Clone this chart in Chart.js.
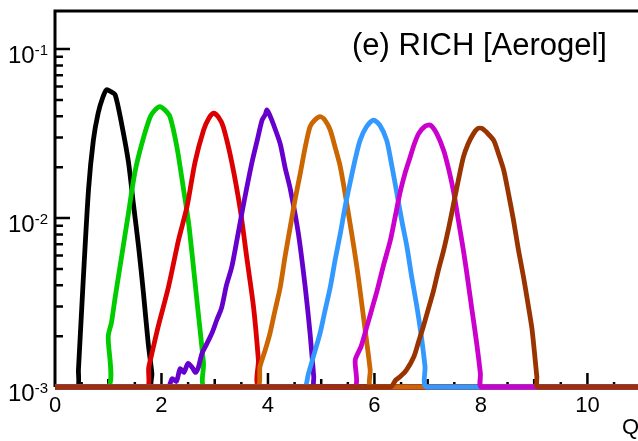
<!DOCTYPE html>
<html>
<head>
<meta charset="utf-8">
<script src="https://cdn.jsdelivr.net/npm/chart.js@4.4.1/dist/chart.umd.min.js"></script>
<style>
  html, body { margin: 0; padding: 0; background: #fff; }
  canvas { display: block; }
</style>
</head>
<body>
<canvas id="richChart" width="638" height="441"></canvas>
<script>
// Q distributions per charge (log scale, floor at 1e-3)
const charges = [1, 2, 3, 4, 5, 6, 7, 8];
const colors = ['#000000', '#00cc00', '#dd0000', '#6600cc', '#cc6600', '#3399ff', '#cc00cc', '#993300'];

const z1Q = [0, 0.42, 0.44, 0.53, 0.63, 0.72, 0.81, 0.90, 0.97, 1.05, 1.13, 1.25, 1.38, 1.47, 1.57, 1.66, 1.75, 1.82, 1.83, 10.95];
const z1Y = [0.001, 0.001, 0.00126, 0.00427, 0.0148, 0.0288, 0.0417, 0.052, 0.0575, 0.056, 0.0537, 0.0363, 0.0214, 0.0123, 0.00676, 0.00363, 0.00182, 0.0012, 0.001, 0.001];

const z2Q = [0, 1.0, 1.0, 1.06, 1.13, 1.25, 1.38, 1.50, 1.63, 1.79, 1.88, 1.97, 2.06, 2.16, 2.29, 2.41, 2.51, 2.60, 2.69, 2.79, 2.82, 10.95];
const z2Y = [0.001, 0.001, 0.002, 0.0024, 0.00339, 0.00589, 0.0107, 0.0186, 0.0275, 0.0398, 0.0437, 0.0457, 0.0437, 0.0398, 0.0263, 0.0151, 0.00933, 0.00513, 0.00275, 0.00138, 0.001, 0.001];

const z3Q = [0, 1.72, 1.76, 1.82, 1.94, 2.13, 2.32, 2.48, 2.63, 2.79, 2.89, 2.98, 3.07, 3.16, 3.32, 3.48, 3.60, 3.73, 3.82, 3.85, 10.95];
const z3Y = [0.001, 0.001, 0.0013, 0.00158, 0.00229, 0.00389, 0.00741, 0.0117, 0.0214, 0.0331, 0.039, 0.0417, 0.0395, 0.0347, 0.0214, 0.0112, 0.00589, 0.00295, 0.00145, 0.001, 0.001];

const z4Q = [0, 2.12, 2.2, 2.28, 2.35, 2.42, 2.5, 2.58, 2.64, 2.69, 2.76, 2.85, 2.95, 3.04, 3.13, 3.22, 3.32, 3.42, 3.51, 3.60, 3.70, 3.80, 3.89, 3.95, 3.98, 4.02, 4.1, 4.23, 4.32, 4.42, 4.57, 4.70, 4.79, 4.86, 4.88, 10.95];
const z4Y = [0.001, 0.001, 0.00112, 0.00108, 0.00128, 0.00122, 0.00138, 0.0013, 0.00122, 0.0013, 0.00158, 0.0018, 0.00209, 0.0025, 0.00295, 0.004, 0.00513, 0.0075, 0.0107, 0.015, 0.0214, 0.029, 0.038, 0.041, 0.0437, 0.0415, 0.036, 0.0275, 0.02, 0.0148, 0.00813, 0.00389, 0.00209, 0.00115, 0.001, 0.001];

const z5Q = [0, 3.79, 3.85, 3.95, 4.04, 4.13, 4.23, 4.32, 4.42, 4.51, 4.61, 4.70, 4.79, 4.88, 4.98, 5.07, 5.17, 5.26, 5.36, 5.51, 5.67, 5.80, 5.92, 5.94, 10.95];
const z5Y = [0.001, 0.001, 0.00132, 0.00166, 0.00209, 0.00282, 0.00389, 0.00589, 0.00891, 0.0129, 0.0186, 0.0263, 0.0347, 0.038, 0.0398, 0.038, 0.0331, 0.0263, 0.02, 0.0107, 0.00513, 0.00251, 0.00126, 0.001, 0.001];

const z6Q = [0, 4.67, 4.76, 4.87, 4.98, 5.07, 5.17, 5.26, 5.36, 5.45, 5.55, 5.64, 5.73, 5.85, 5.98, 6.10, 6.23, 6.32, 6.42, 6.51, 6.61, 6.70, 6.80, 6.88, 6.95, 6.98, 10.95];
const z6Y = [0.001, 0.001, 0.0012, 0.00158, 0.00209, 0.00282, 0.00389, 0.00562, 0.00813, 0.0117, 0.0166, 0.0224, 0.0288, 0.0347, 0.038, 0.0355, 0.0288, 0.0209, 0.0141, 0.00977, 0.00676, 0.00447, 0.00295, 0.002, 0.00132, 0.001, 0.001];

const z7Q = [0, 5.61, 5.64, 5.75, 5.86, 5.95, 6.05, 6.17, 6.30, 6.39, 6.48, 6.57, 6.67, 6.75, 6.83, 6.94, 7.05, 7.17, 7.30, 7.40, 7.49, 7.58, 7.67, 7.75, 7.83, 7.92, 7.99, 8.01, 10.95];
const z7Y = [0.001, 0.001, 0.00145, 0.00174, 0.00229, 0.00288, 0.00372, 0.00525, 0.00741, 0.0102, 0.0141, 0.0182, 0.0229, 0.0275, 0.0316, 0.0347, 0.0355, 0.0316, 0.0251, 0.0191, 0.0141, 0.00955, 0.00646, 0.00437, 0.00288, 0.00182, 0.0012, 0.001, 0.001];

const z8Q = [0, 6.30, 6.40, 6.48, 6.60, 6.74, 6.83, 6.92, 7.01, 7.11, 7.20, 7.30, 7.40, 7.49, 7.58, 7.67, 7.76, 7.86, 7.94, 8.02, 8.13, 8.24, 8.33, 8.43, 8.52, 8.61, 8.70, 8.80, 8.88, 8.96, 9.05, 9.07, 10.95];
const z8Y = [0.001, 0.001, 0.0011, 0.00115, 0.00126, 0.00151, 0.00186, 0.00229, 0.00288, 0.00372, 0.0049, 0.00646, 0.00891, 0.0123, 0.017, 0.0229, 0.0275, 0.0316, 0.0339, 0.0339, 0.0316, 0.0288, 0.024, 0.0191, 0.0138, 0.00977, 0.0066, 0.00447, 0.00316, 0.00219, 0.00115, 0.001, 0.001];

const qSeries = [z1Q, z2Q, z3Q, z4Q, z5Q, z6Q, z7Q, z8Q];
const ySeries = [z1Y, z2Y, z3Y, z4Y, z5Y, z6Y, z7Y, z8Y];

const xTicks = [0, 2, 4, 6, 8, 10];
const yTicks = [0.001, 0.01, 0.1];
const yExponents = ['-3', '-2', '-1'];
const titleText = '(e) RICH [Aerogel]';
const xTitle = 'Q';

const FONT = '"Liberation Sans", Arial, Helvetica, sans-serif';

const datasets = charges.map((z, i) => ({
    label: 'Z=' + z,
    data: qSeries[i].map((q, j) => ({ x: q, y: ySeries[i][j] })),
    borderColor: colors[i],
    backgroundColor: colors[i],
    borderWidth: 4.8,
    pointRadius: 0,
    tension: 0.25,
    fill: false,
    clip: false,
    order: charges.length - i
}));

// ROOT-style frame, inward ticks and in-pad texts
const rootFrame = {
    id: 'rootFrame',
    beforeDatasetsDraw(chart) {
        const ctx = chart.ctx;
        const a = chart.chartArea;
        const xs = chart.scales.x;
        const ys = chart.scales.y;
        ctx.save();
        ctx.strokeStyle = '#000';
        ctx.lineWidth = 2.5;
        ctx.beginPath();
        // y ticks: majors at decades, minors 2..9
        yTicks.forEach(d => {
            for (let m = 1; m <= 9; m++) {
                const v = d * m;
                if (v > ys.max) break;
                const py = ys.getPixelForValue(v);
                const len = m === 1 ? 15 : 8;
                ctx.moveTo(a.left, py);
                ctx.lineTo(a.left + len, py);
            }
        });
        // x ticks
        for (let k = 1; k <= 21; k++) {
            const v = k * 0.5;
            const px = xs.getPixelForValue(v);
            const len = (v % 2 === 0) ? 14 : (v % 1 === 0 ? 8 : 5);
            ctx.moveTo(px, a.bottom);
            ctx.lineTo(px, a.bottom - len);
        }
        ctx.stroke();
        // frame: left and top
        ctx.lineWidth = 3;
        ctx.beginPath();
        ctx.moveTo(a.left, a.bottom);
        ctx.lineTo(a.left, a.top);
        ctx.lineTo(chart.width, a.top);
        ctx.stroke();
        ctx.restore();
    },
    afterDraw(chart) {
        const ctx = chart.ctx;
        const ys = chart.scales.y;
        ctx.save();
        ctx.fillStyle = '#000';
        ctx.textBaseline = 'alphabetic';
        // y labels 10^n
        yTicks.forEach((v, i) => {
            const py = ys.getPixelForValue(v);
            ctx.textAlign = 'right';
            ctx.font = '15px ' + FONT;
            ctx.fillText(yExponents[i], 48, py + 6);
            const ew = ctx.measureText(yExponents[i]).width;
            ctx.font = '24px ' + FONT;
            ctx.fillText('10', 48 - ew, py + 14);
        });
        ctx.textAlign = 'left';
        ctx.font = '31px ' + FONT;
        ctx.fillText(titleText, 352, 55);
        ctx.font = '22px ' + FONT;
        ctx.fillText(xTitle, 622, 434);
        ctx.restore();
    }
};

const config = {
    type: 'line',
    data: { datasets: datasets },
    options: {
        responsive: false,
        animation: false,
        layout: { padding: { top: 11, right: 0, left: 0, bottom: 0 } },
        plugins: {
            legend: { display: false },
            tooltip: { enabled: false }
        },
        scales: {
            x: {
                type: 'linear',
                min: 0,
                max: 10.95,
                afterBuildTicks: s => { s.ticks = xTicks.map(v => ({ value: v })); },
                afterFit: s => { s.height = 54; },
                grid: { display: false, drawTicks: false },
                border: { display: false },
                ticks: {
                    color: '#000',
                    padding: 6,
                    maxRotation: 0,
                    font: { family: FONT, size: 22 },
                    callback: v => String(v)
                }
            },
            y: {
                type: 'logarithmic',
                min: 0.001,
                max: 0.168,
                afterBuildTicks: s => { s.ticks = yTicks.map(v => ({ value: v })); },
                afterFit: s => { s.width = 55; },
                grid: { display: false, drawTicks: false },
                border: { display: false },
                ticks: { display: false }
            }
        }
    },
    plugins: [rootFrame]
};

const richChart = new Chart(document.getElementById('richChart').getContext('2d'), config);
</script>
</body>
</html>
